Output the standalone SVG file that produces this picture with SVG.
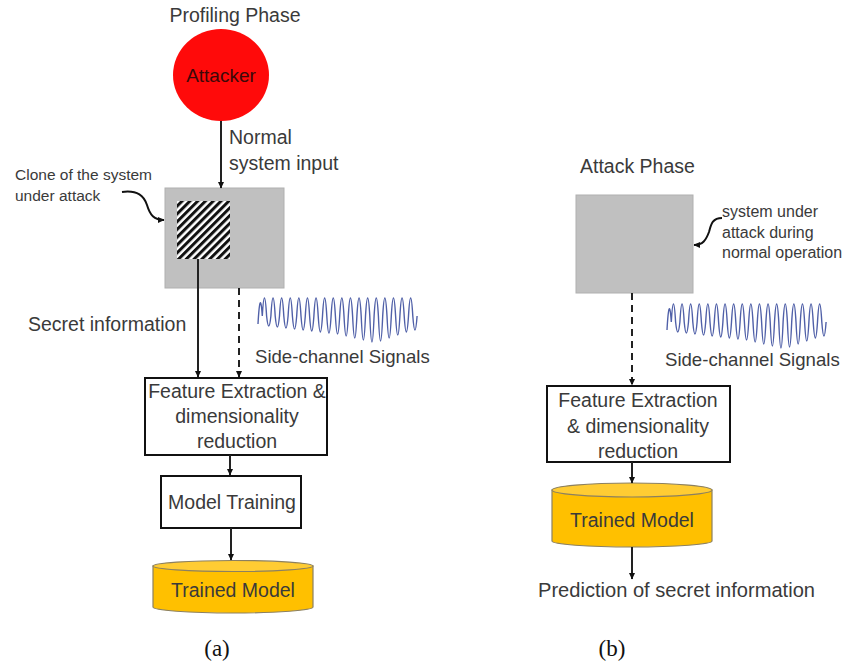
<svg xmlns="http://www.w3.org/2000/svg" width="849" height="663" viewBox="0 0 849 663">
<style>
.t{font-family:"Liberation Sans",Arial,sans-serif;font-size:19.5px;fill:#3a3a3a}
.sc{font-size:18.6px}
.s{font-family:"Liberation Sans",Arial,sans-serif;font-size:15.5px;fill:#3a3a3a}
.m{text-anchor:middle}
.cap{font-family:"Liberation Serif","Times New Roman",serif;font-size:23px;fill:#111;text-anchor:middle}
.box{fill:#fff;stroke:#111;stroke-width:2}
.gray{fill:#c0c0c0;stroke:#b0b0b0;stroke-width:1}
.ln{fill:none;stroke:#222;stroke-width:2}
.dash{fill:none;stroke:#222;stroke-width:2;stroke-dasharray:7,5}
.ann{fill:none;stroke:#111;stroke-width:2}
.cylb{fill:#ffc000;stroke:#8c8060;stroke-width:1.2}
.cylt{fill:#ffcc33;stroke:#8c8060;stroke-width:1.2}
.wave{fill:none;stroke:#5060a8;stroke-width:1.4}
</style>
<defs>
<marker id="ah" markerUnits="userSpaceOnUse" markerWidth="7" markerHeight="7" refX="6" refY="3.5" orient="auto">
<path d="M0,0.5 L6.5,3.5 L0,6.5 z" fill="#111"/>
</marker>
<pattern id="hatch" patternUnits="userSpaceOnUse" width="5.5" height="10" patternTransform="rotate(45)">
<rect width="5.5" height="10" fill="#fff"/>
<rect width="3" height="10" fill="#111"/>
</pattern>
<path id="wave" class="wave" d="M0,30 q2.15,-38 4.3,-8 q2.15,-36 4.3,0 q2.15,20 4.3,0 q2.15,-36 4.3,0 q2.15,22 4.3,0 q2.15,-36 4.3,0 q2.15,24 4.3,0 q2.15,-36 4.3,0 q2.15,26 4.3,0 q2.15,-36 4.3,0 q2.15,28 4.3,0 q2.15,-36 4.3,0 q2.15,30 4.3,0 q2.15,-36 4.3,0 q2.15,32 4.3,0 q2.15,-36 4.3,0 q2.15,34 4.3,0 q2.15,-36 4.3,0 q2.15,36 4.3,0 q2.15,-36 4.3,0 q2.15,40 4.3,0 q2.15,-36 4.3,0 q2.15,44 4.3,0 q2.15,-36 4.3,0 q2.15,48 4.3,0 q2.15,-36 4.3,0 q2.15,52 4.3,0 q2.15,-36 4.3,0 q2.15,50 4.3,0 q2.15,-36 4.3,0 q2.15,44 4.3,0 q2.15,-36 4.3,0 q2.15,38 4.3,0 q2.15,-36 4.3,0 q2.15,32 4.3,0 q2.15,-36 4.3,0 q2.15,28 4.3,0"/>
</defs>

<!-- Left: Profiling phase -->
<text class="t m" x="235" y="22">Profiling Phase</text>

<g id="attacker">
<ellipse cx="221" cy="75" rx="48" ry="46" fill="#ff0a0a"/>
<text class="t m" x="221" y="82" style="fill:#3c0808;font-size:19px">Attacker</text>
</g>

<g id="clone-system">
<rect class="gray" x="165" y="188" width="119" height="100"/>
<rect x="177" y="201" width="53" height="58" fill="url(#hatch)"/>
</g>

<g id="clone-label">
<text class="s" x="15" y="180">Clone of the system</text>
<text class="s" x="15" y="201">under attack</text>
</g>

<g id="signals-a">
<use href="#wave" x="258" y="294"/>
<text class="t sc" x="255" y="363">Side-channel Signals</text>
</g>

<g id="feature-a">
<rect class="box" x="145" y="378" width="182" height="77"/>
<text class="t m" x="237" y="398">Feature Extraction &amp;</text>
<text class="t m" x="237" y="423">dimensionality</text>
<text class="t m" x="237" y="448">reduction</text>
</g>

<g id="training">
<rect class="box" x="161" y="476" width="140" height="52"/>
<text class="t m" x="232" y="509">Model Training</text>
</g>

<g id="model-a">
<path class="cylb" d="M153,566 L153,607 A80,6 0 0 0 313,607 L313,566 z"/>
<ellipse class="cylt" cx="233" cy="566" rx="80" ry="5.5"/>
<text class="t m" x="233" y="597">Trained Model</text>
</g>

<text class="cap" x="217" y="656">(a)</text>

<!-- Right: Attack phase -->
<text class="t" x="580" y="173">Attack Phase</text>

<g id="target-system">
<rect class="gray" x="576" y="195" width="117" height="98"/>
</g>

<g id="target-label">
<text class="s" x="722" y="217" style="font-size:16px">system under</text>
<text class="s" x="722" y="238" style="font-size:16px">attack during</text>
<text class="s" x="722" y="258" style="font-size:16px">normal operation</text>
</g>

<g id="signals-b">
<use href="#wave" x="667" y="300"/>
<text class="t sc" x="665" y="366">Side-channel Signals</text>
</g>

<g id="feature-b">
<rect class="box" x="547" y="386" width="183" height="76"/>
<text class="t m" x="638" y="407">Feature Extraction</text>
<text class="t m" x="638" y="433">&amp; dimensionality</text>
<text class="t m" x="638" y="458">reduction</text>
</g>

<g id="model-b">
<path class="cylb" d="M552,490 L552,541 A80,6 0 0 0 712,541 L712,490 z"/>
<ellipse class="cylt" cx="632" cy="490" rx="80" ry="7"/>
<text class="t m" x="632" y="527">Trained Model</text>
</g>

<g id="prediction">
<text class="t" x="538" y="597" style="font-size:20.1px">Prediction of secret information</text>
</g>

<text class="cap" x="612" y="656">(b)</text>

<g id="connectors">
<line class="ln" x1="221" y1="121" x2="221" y2="188" marker-end="url(#ah)"/>
<text class="t" x="229" y="144">Normal</text>
<text class="t" x="229" y="170">system input</text>
<path class="ann" d="M122,192 C138,190 144,196 147,205 C150,215 154,220 164,220" marker-end="url(#ah)"/>
<line class="ln" x1="198" y1="259" x2="198" y2="377" marker-end="url(#ah)"/>
<text class="t" x="28" y="331">Secret information</text>
<line class="dash" x1="239" y1="288" x2="239" y2="377" marker-end="url(#ah)"/>
<line class="ln" x1="230" y1="455" x2="230" y2="475" marker-end="url(#ah)"/>
<line class="ln" x1="231" y1="528" x2="231" y2="560" marker-end="url(#ah)"/>
<path class="ann" d="M722,218 C712,218 711,225 709,232 C706,240 703,245 694,245" marker-end="url(#ah)"/>
<line class="dash" x1="632" y1="293" x2="632" y2="385" marker-end="url(#ah)"/>
<line class="ln" x1="632" y1="462" x2="632" y2="483" marker-end="url(#ah)"/>
<line class="ln" x1="632" y1="547" x2="632" y2="579" marker-end="url(#ah)"/>
</g>
</svg>
